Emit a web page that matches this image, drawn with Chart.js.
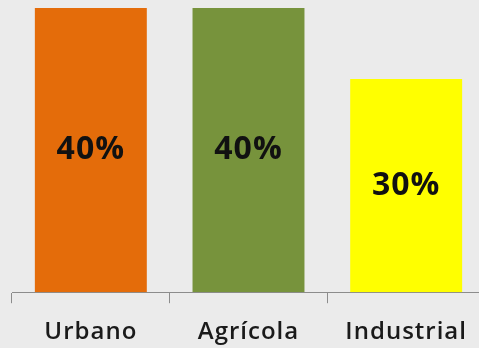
<!DOCTYPE html>
<html>
<head>
<meta charset="utf-8">
<script src="https://cdn.jsdelivr.net/npm/chart.js@4/dist/chart.umd.min.js"></script>
<style>
  html, body { margin: 0; padding: 0; background: #ebebeb; overflow: hidden; }
  #wrap { width: 479px; height: 348px; overflow: hidden; }
  #box { width: 490px; height: 362px; }
</style>
</head>
<body>
<div id="wrap"><div id="box"><canvas id="usos"></canvas></div></div>
<script>
const categorias = ['Urbano', 'Agrícola', 'Industrial'];
const valores = [40, 40, 30];
const colores = ['#e46c0a', '#77933c', '#ffff00'];

// etiquetas dentro de las barras
const etiquetas = {
  id: 'etiquetas',
  afterDatasetsDraw(chart) {
    const ctx = chart.ctx;
    const meta = chart.getDatasetMeta(0);
    ctx.save();
    ctx.letterSpacing = '1px';
    ctx.font = 'bold 32px "Open Sans"';
    ctx.fillStyle = '#111';
    ctx.textAlign = 'center';
    ctx.textBaseline = 'middle';
    meta.data.forEach((bar, i) => {
      const y = (bar.y + bar.base) / 2;
      ctx.fillText(valores[i] + '%', bar.x, y);
    });
    ctx.restore();
  }
};

const espaciado = {
  id: 'espaciado',
  beforeDraw(chart) { chart.ctx.letterSpacing = '1px'; }
};

new Chart(document.getElementById('usos'), {
  type: 'bar',
  data: {
    labels: categorias,
    datasets: [{
      data: valores,
      backgroundColor: colores,
      borderWidth: 0,
      categoryPercentage: 1,
      barPercentage: 0.71
    }]
  },
  options: {
    responsive: true,
    maintainAspectRatio: false,
    animation: false,
    layout: { padding: { left: 12, right: 5, top: 8, bottom: 0 } },
    plugins: {
      legend: { display: false },
      tooltip: { enabled: false }
    },
    scales: {
      x: {
        offset: true,
        grid: {
          offset: true,
          drawOnChartArea: false,
          drawTicks: true,
          tickLength: 11,
          color: '#8c8c8c'
        },
        border: { display: true, color: '#8c8c8c', width: 1 },
        ticks: {
          color: '#1a1a1a',
          font: { family: '"Open Sans"', size: 24, weight: '600' },
          padding: 15,
          maxRotation: 0
        }
      },
      y: {
        display: false,
        min: 0,
        max: 40
      }
    }
  },
  plugins: [espaciado, etiquetas]
});
</script>
</body>
</html>
